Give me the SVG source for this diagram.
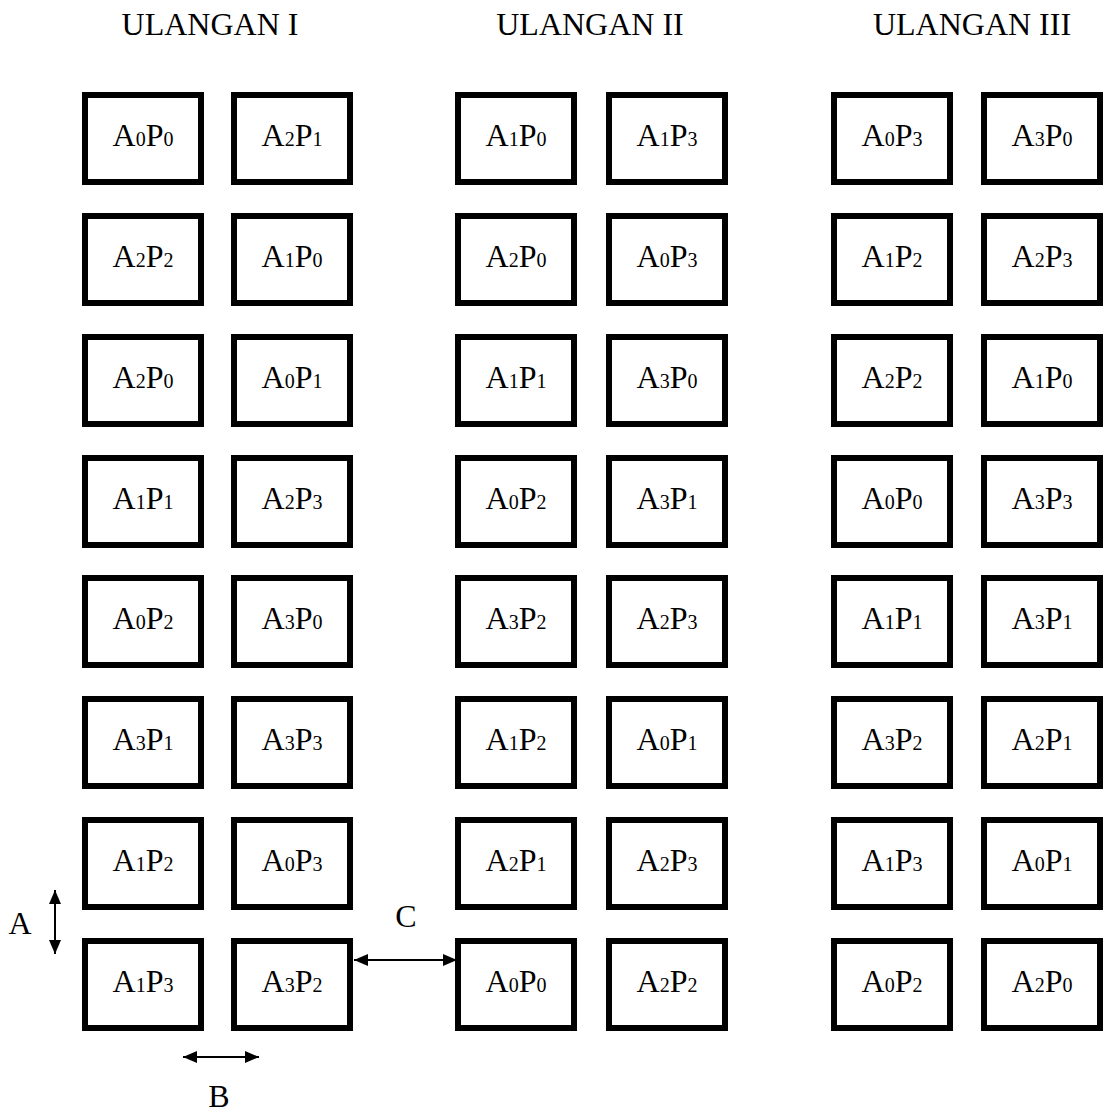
<svg xmlns="http://www.w3.org/2000/svg" width="1104" height="1113" viewBox="0 0 1104 1113">
<style>
.b{fill:#fff;stroke:#000;stroke-width:6}
.t{font-family:"Liberation Serif","Times New Roman",serif;font-size:32px;fill:#000;text-anchor:middle}
.s{font-size:20px}
.h{font-family:"Liberation Serif","Times New Roman",serif;font-size:32px;fill:#000;text-anchor:middle}
.c{stroke:#000;stroke-width:2;fill:none;marker-start:url(#ah);marker-end:url(#ah)}
</style>
<defs>
<marker id="ah" viewBox="0 0 14 12" refX="14" refY="6" markerWidth="14" markerHeight="12" markerUnits="userSpaceOnUse" orient="auto-start-reverse"><path d="M0,0 L14,6 L0,12 z" fill="#000"/></marker>
<g id="cell"><rect class="b" x="3" y="3" width="116" height="87"/></g>
</defs>
<rect width="1104" height="1113" fill="#fff"/>
<g id="headings">
<text class="h" x="210" y="35">ULANGAN I</text>
<text class="h" x="590" y="35">ULANGAN II</text>
<text class="h" x="972" y="35">ULANGAN III</text>
</g>
<g id="nodes">
<g id="c1r1" transform="translate(82,92)"><use href="#cell"/><text class="t" x="61" y="54">A<tspan class="s">0</tspan>P<tspan class="s">0</tspan></text></g>
<g id="c1r2" transform="translate(82,213)"><use href="#cell"/><text class="t" x="61" y="54">A<tspan class="s">2</tspan>P<tspan class="s">2</tspan></text></g>
<g id="c1r3" transform="translate(82,334)"><use href="#cell"/><text class="t" x="61" y="54">A<tspan class="s">2</tspan>P<tspan class="s">0</tspan></text></g>
<g id="c1r4" transform="translate(82,455)"><use href="#cell"/><text class="t" x="61" y="54">A<tspan class="s">1</tspan>P<tspan class="s">1</tspan></text></g>
<g id="c1r5" transform="translate(82,575)"><use href="#cell"/><text class="t" x="61" y="54">A<tspan class="s">0</tspan>P<tspan class="s">2</tspan></text></g>
<g id="c1r6" transform="translate(82,696)"><use href="#cell"/><text class="t" x="61" y="54">A<tspan class="s">3</tspan>P<tspan class="s">1</tspan></text></g>
<g id="c1r7" transform="translate(82,817)"><use href="#cell"/><text class="t" x="61" y="54">A<tspan class="s">1</tspan>P<tspan class="s">2</tspan></text></g>
<g id="c1r8" transform="translate(82,938)"><use href="#cell"/><text class="t" x="61" y="54">A<tspan class="s">1</tspan>P<tspan class="s">3</tspan></text></g>

<g id="c2r1" transform="translate(231,92)"><use href="#cell"/><text class="t" x="61" y="54">A<tspan class="s">2</tspan>P<tspan class="s">1</tspan></text></g>
<g id="c2r2" transform="translate(231,213)"><use href="#cell"/><text class="t" x="61" y="54">A<tspan class="s">1</tspan>P<tspan class="s">0</tspan></text></g>
<g id="c2r3" transform="translate(231,334)"><use href="#cell"/><text class="t" x="61" y="54">A<tspan class="s">0</tspan>P<tspan class="s">1</tspan></text></g>
<g id="c2r4" transform="translate(231,455)"><use href="#cell"/><text class="t" x="61" y="54">A<tspan class="s">2</tspan>P<tspan class="s">3</tspan></text></g>
<g id="c2r5" transform="translate(231,575)"><use href="#cell"/><text class="t" x="61" y="54">A<tspan class="s">3</tspan>P<tspan class="s">0</tspan></text></g>
<g id="c2r6" transform="translate(231,696)"><use href="#cell"/><text class="t" x="61" y="54">A<tspan class="s">3</tspan>P<tspan class="s">3</tspan></text></g>
<g id="c2r7" transform="translate(231,817)"><use href="#cell"/><text class="t" x="61" y="54">A<tspan class="s">0</tspan>P<tspan class="s">3</tspan></text></g>
<g id="c2r8" transform="translate(231,938)"><use href="#cell"/><text class="t" x="61" y="54">A<tspan class="s">3</tspan>P<tspan class="s">2</tspan></text></g>

<g id="c3r1" transform="translate(455,92)"><use href="#cell"/><text class="t" x="61" y="54">A<tspan class="s">1</tspan>P<tspan class="s">0</tspan></text></g>
<g id="c3r2" transform="translate(455,213)"><use href="#cell"/><text class="t" x="61" y="54">A<tspan class="s">2</tspan>P<tspan class="s">0</tspan></text></g>
<g id="c3r3" transform="translate(455,334)"><use href="#cell"/><text class="t" x="61" y="54">A<tspan class="s">1</tspan>P<tspan class="s">1</tspan></text></g>
<g id="c3r4" transform="translate(455,455)"><use href="#cell"/><text class="t" x="61" y="54">A<tspan class="s">0</tspan>P<tspan class="s">2</tspan></text></g>
<g id="c3r5" transform="translate(455,575)"><use href="#cell"/><text class="t" x="61" y="54">A<tspan class="s">3</tspan>P<tspan class="s">2</tspan></text></g>
<g id="c3r6" transform="translate(455,696)"><use href="#cell"/><text class="t" x="61" y="54">A<tspan class="s">1</tspan>P<tspan class="s">2</tspan></text></g>
<g id="c3r7" transform="translate(455,817)"><use href="#cell"/><text class="t" x="61" y="54">A<tspan class="s">2</tspan>P<tspan class="s">1</tspan></text></g>
<g id="c3r8" transform="translate(455,938)"><use href="#cell"/><text class="t" x="61" y="54">A<tspan class="s">0</tspan>P<tspan class="s">0</tspan></text></g>

<g id="c4r1" transform="translate(606,92)"><use href="#cell"/><text class="t" x="61" y="54">A<tspan class="s">1</tspan>P<tspan class="s">3</tspan></text></g>
<g id="c4r2" transform="translate(606,213)"><use href="#cell"/><text class="t" x="61" y="54">A<tspan class="s">0</tspan>P<tspan class="s">3</tspan></text></g>
<g id="c4r3" transform="translate(606,334)"><use href="#cell"/><text class="t" x="61" y="54">A<tspan class="s">3</tspan>P<tspan class="s">0</tspan></text></g>
<g id="c4r4" transform="translate(606,455)"><use href="#cell"/><text class="t" x="61" y="54">A<tspan class="s">3</tspan>P<tspan class="s">1</tspan></text></g>
<g id="c4r5" transform="translate(606,575)"><use href="#cell"/><text class="t" x="61" y="54">A<tspan class="s">2</tspan>P<tspan class="s">3</tspan></text></g>
<g id="c4r6" transform="translate(606,696)"><use href="#cell"/><text class="t" x="61" y="54">A<tspan class="s">0</tspan>P<tspan class="s">1</tspan></text></g>
<g id="c4r7" transform="translate(606,817)"><use href="#cell"/><text class="t" x="61" y="54">A<tspan class="s">2</tspan>P<tspan class="s">3</tspan></text></g>
<g id="c4r8" transform="translate(606,938)"><use href="#cell"/><text class="t" x="61" y="54">A<tspan class="s">2</tspan>P<tspan class="s">2</tspan></text></g>

<g id="c5r1" transform="translate(831,92)"><use href="#cell"/><text class="t" x="61" y="54">A<tspan class="s">0</tspan>P<tspan class="s">3</tspan></text></g>
<g id="c5r2" transform="translate(831,213)"><use href="#cell"/><text class="t" x="61" y="54">A<tspan class="s">1</tspan>P<tspan class="s">2</tspan></text></g>
<g id="c5r3" transform="translate(831,334)"><use href="#cell"/><text class="t" x="61" y="54">A<tspan class="s">2</tspan>P<tspan class="s">2</tspan></text></g>
<g id="c5r4" transform="translate(831,455)"><use href="#cell"/><text class="t" x="61" y="54">A<tspan class="s">0</tspan>P<tspan class="s">0</tspan></text></g>
<g id="c5r5" transform="translate(831,575)"><use href="#cell"/><text class="t" x="61" y="54">A<tspan class="s">1</tspan>P<tspan class="s">1</tspan></text></g>
<g id="c5r6" transform="translate(831,696)"><use href="#cell"/><text class="t" x="61" y="54">A<tspan class="s">3</tspan>P<tspan class="s">2</tspan></text></g>
<g id="c5r7" transform="translate(831,817)"><use href="#cell"/><text class="t" x="61" y="54">A<tspan class="s">1</tspan>P<tspan class="s">3</tspan></text></g>
<g id="c5r8" transform="translate(831,938)"><use href="#cell"/><text class="t" x="61" y="54">A<tspan class="s">0</tspan>P<tspan class="s">2</tspan></text></g>

<g id="c6r1" transform="translate(981,92)"><use href="#cell"/><text class="t" x="61" y="54">A<tspan class="s">3</tspan>P<tspan class="s">0</tspan></text></g>
<g id="c6r2" transform="translate(981,213)"><use href="#cell"/><text class="t" x="61" y="54">A<tspan class="s">2</tspan>P<tspan class="s">3</tspan></text></g>
<g id="c6r3" transform="translate(981,334)"><use href="#cell"/><text class="t" x="61" y="54">A<tspan class="s">1</tspan>P<tspan class="s">0</tspan></text></g>
<g id="c6r4" transform="translate(981,455)"><use href="#cell"/><text class="t" x="61" y="54">A<tspan class="s">3</tspan>P<tspan class="s">3</tspan></text></g>
<g id="c6r5" transform="translate(981,575)"><use href="#cell"/><text class="t" x="61" y="54">A<tspan class="s">3</tspan>P<tspan class="s">1</tspan></text></g>
<g id="c6r6" transform="translate(981,696)"><use href="#cell"/><text class="t" x="61" y="54">A<tspan class="s">2</tspan>P<tspan class="s">1</tspan></text></g>
<g id="c6r7" transform="translate(981,817)"><use href="#cell"/><text class="t" x="61" y="54">A<tspan class="s">0</tspan>P<tspan class="s">1</tspan></text></g>
<g id="c6r8" transform="translate(981,938)"><use href="#cell"/><text class="t" x="61" y="54">A<tspan class="s">2</tspan>P<tspan class="s">0</tspan></text></g>
</g>
<g id="connectors">
<line class="c" x1="55" y1="890" x2="55" y2="954"/>
<line class="c" x1="354" y1="960" x2="457" y2="960"/>
<line class="c" x1="183" y1="1057" x2="259" y2="1057"/>
</g>
<g id="labels">
<text class="h" x="20" y="934">A</text>
<text class="h" x="406" y="927">C</text>
<text class="h" x="219" y="1107">B</text>
</g>
</svg>
